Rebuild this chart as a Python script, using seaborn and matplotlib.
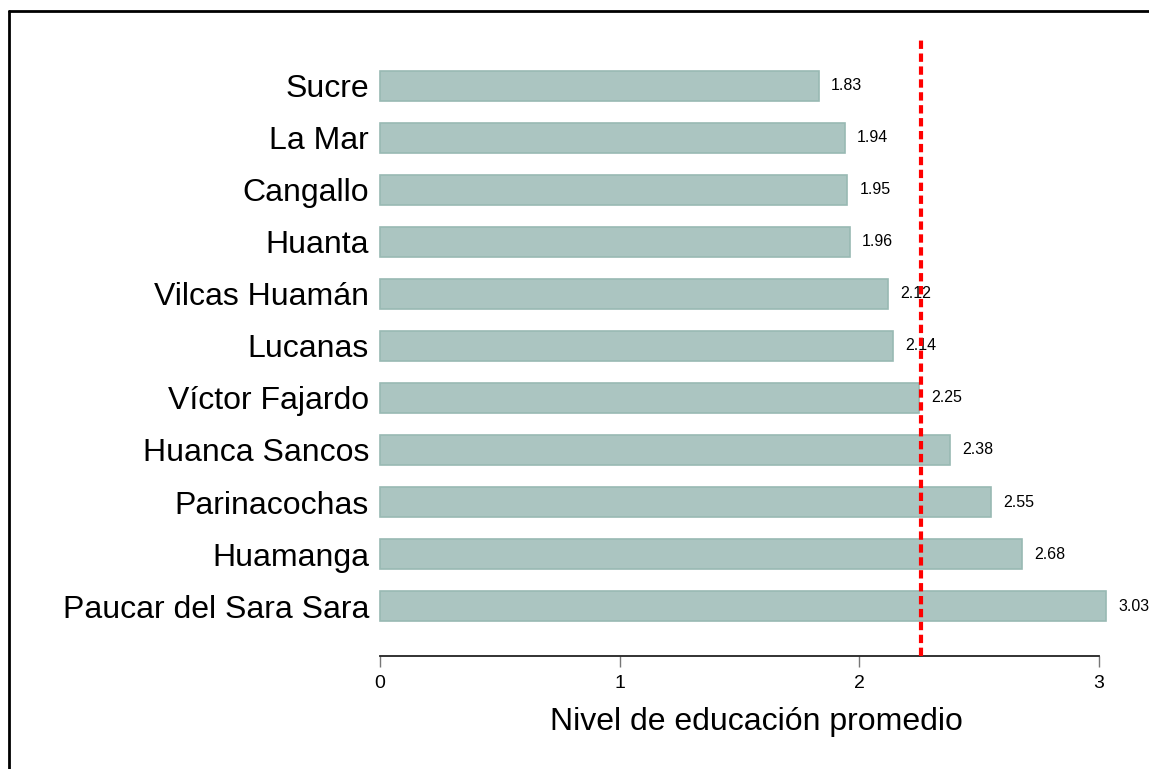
import pandas as pd
import seaborn as sns
import matplotlib.pyplot as plt
from matplotlib.lines import Line2D

provincias = ["Sucre", "La Mar", "Cangallo", "Huanta", "Vilcas Huamán", "Lucanas",
              "Víctor Fajardo", "Huanca Sancos", "Parinacochas", "Huamanga",
              "Paucar del Sara Sara"]
nivel = [1.83, 1.94, 1.95, 1.96, 2.12, 2.14, 2.25, 2.38, 2.55, 2.68, 3.03]

df = pd.DataFrame({"provincia": provincias, "nivel": nivel})
promedio = df["nivel"].mean()

sns.set_style("white")
plt.rcParams['font.family'] = ['Liberation Sans', 'DejaVu Sans']
plt.rcParams['text.color'] = 'black'
plt.rcParams['axes.labelcolor'] = 'black'
plt.rcParams['xtick.labelcolor'] = 'black'
plt.rcParams['ytick.labelcolor'] = 'black'

fig = plt.figure(figsize=(11.49, 7.69), dpi=100)
ax = fig.add_axes([380 / 1149, 1 - 656 / 769, 719 / 1149, 618 / 769])

sns.barplot(data=df, x="nivel", y="provincia", orient="h", color="#abc5c1",
            saturation=1, width=0.59, edgecolor="#98b9b3", linewidth=1.2, ax=ax)

# bars go past the axis end, keep them visible
for p in ax.patches:
    p.set_clip_on(False)

for i, v in enumerate(df["nivel"]):
    ax.text(v + 0.05, i, f"{v:.2f}", va="center", ha="left", fontsize=11.5,
            color="black", clip_on=False)

# mean line
ax.axvline(promedio, color="#ff0000", linestyle=(0, (2.0, 1.1)), linewidth=3,
           zorder=5)

ax.set_xlim(0, 3)
ax.set_ylim(10.96, -0.92)
ax.set_xticks([0, 1, 2, 3])
ax.set_xlabel("Nivel de educación promedio", fontsize=23)
ax.xaxis.set_label_coords(0.524, -0.082)
ax.set_ylabel("")
ax.tick_params(axis="x", labelsize=14, length=8, width=1, color="#777777",
               bottom=True, pad=6)
ax.tick_params(axis="y", labelsize=23, length=0, pad=8)

for s in ["top", "right", "left"]:
    ax.spines[s].set_visible(False)
ax.spines["bottom"].set_color("#222222")
ax.spines["bottom"].set_linewidth(1.3)

# frame around the figure (top and left)
fig.add_artist(Line2D([9 / 1149, 9 / 1149], [0, 1 - 11 / 769], color="black",
                      linewidth=2, transform=fig.transFigure))
fig.add_artist(Line2D([9 / 1149, 1], [1 - 11 / 769, 1 - 11 / 769], color="black",
                      linewidth=2, transform=fig.transFigure))

fig.savefig("out.png", dpi=100)
